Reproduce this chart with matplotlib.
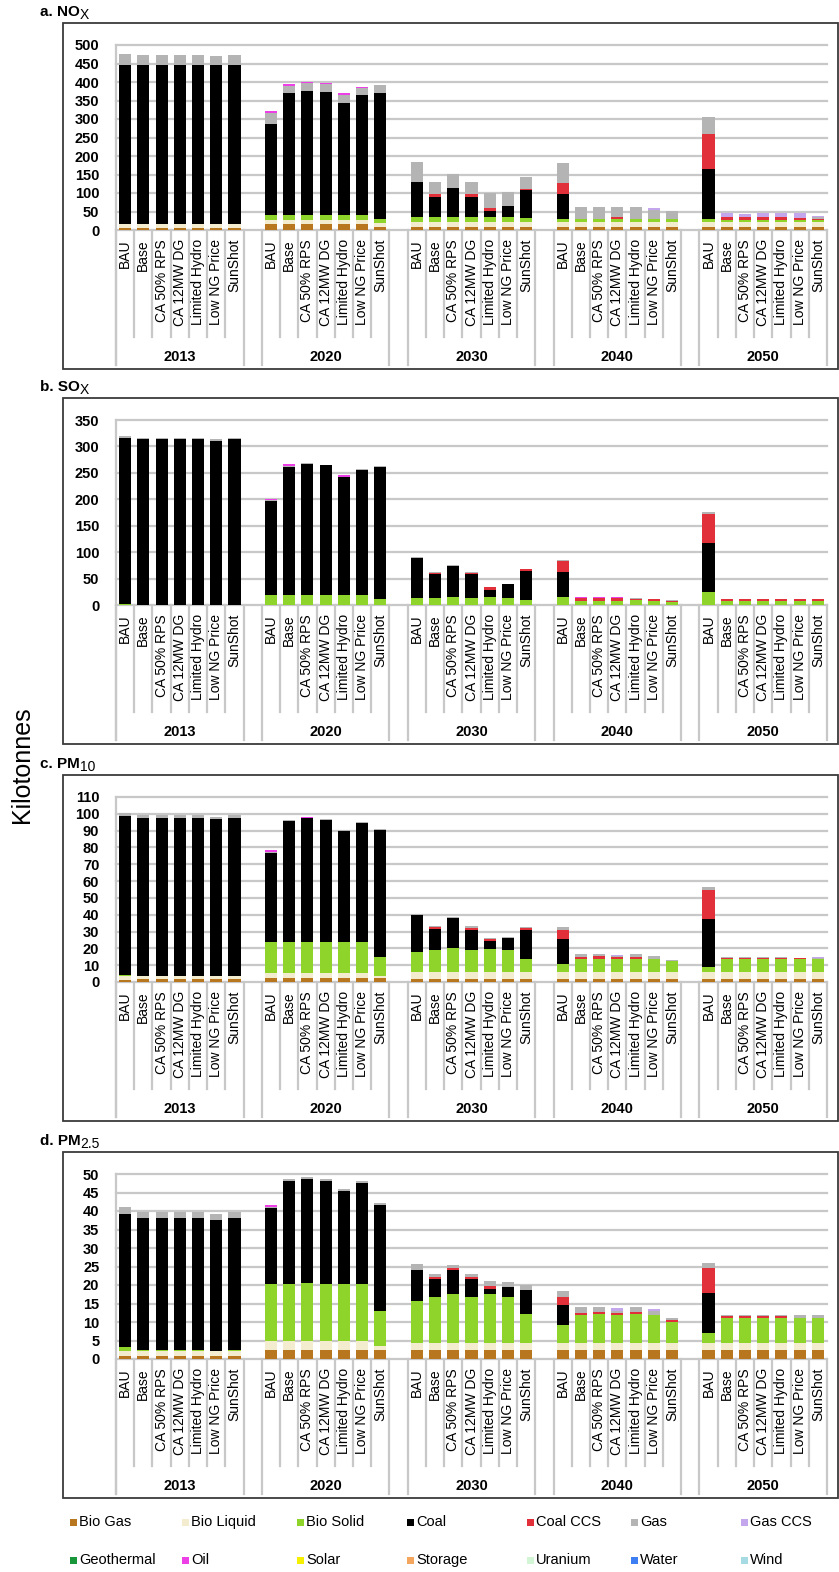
import matplotlib
matplotlib.use('Agg')
import matplotlib.pyplot as plt
import matplotlib.transforms as mtransforms
from matplotlib.patches import Rectangle
import numpy as np

plt.rcParams['font.family'] = ['Liberation Sans', 'DejaVu Sans']

W, H = 839, 1572

years = ['2013', '2020', '2030', '2040', '2050']
scenarios = ['BAU', 'Base', 'CA 50% RPS', 'CA 12MW DG', 'Limited Hydro',
             'Low NG Price', 'SunShot']
fuels = ['Bio Gas', 'Bio Liquid', 'Bio Solid', 'Coal', 'Coal CCS', 'Gas',
         'Gas CCS', 'Geothermal', 'Oil', 'Solar', 'Storage', 'Uranium',
         'Water', 'Wind']
fuel_colors = ['#b8761f', '#f3ecce', '#8fd42a', '#000000', '#e2303a', '#b4b4b4',
               '#c3a6ec', '#17963a', '#ec3fe6', '#f4f000', '#f4a55e', '#d2f5d5',
               '#3d7ff2', '#a6dbe3']

# kilotonnes, 35 bars per pollutant: 5 years x 7 scenarios
nox_bio_gas = [5, 5, 5, 5, 5, 5, 5,
               15, 15, 15, 15, 15, 15, 9,
               9, 9, 9, 9, 9, 9, 9,
               9, 9, 9, 9, 9, 9, 9,
               9, 9, 9, 9, 9, 9, 9]
nox_bio_liquid = [10, 10, 10, 10, 10, 10, 10,
                  12, 12, 12, 12, 12, 12, 11,
                  13, 13, 13, 13, 13, 13, 13,
                  13, 13, 13, 13, 13, 13, 13,
                  13, 13, 13, 13, 13, 13, 13]
nox_bio_solid = [1, 1, 1, 1, 1, 1, 1,
                 14, 14, 14, 14, 14, 14, 9,
                 13, 13, 13, 13, 13, 13, 10,
                 8, 8, 8, 8, 8, 8, 8,
                 8, 5, 5, 5, 5, 5, 5]
nox_coal = [429, 429, 429, 429, 429, 429, 429,
            245, 330, 336, 333, 301, 324, 342,
            96, 55, 79, 55, 17, 30, 76,
            66, 0, 0, 0, 0, 0, 0,
            134, 0, 0, 0, 0, 0, 0]
nox_coal_ccs = [0, 0, 0, 0, 0, 0, 0,
                0, 0, 0, 0, 0, 0, 0,
                0, 6, 0, 6, 7, 0, 4,
                30, 1, 1, 4, 1, 1, 1,
                95, 9, 8, 9, 9, 6, 4]
nox_gas = [31, 27, 27, 27, 27, 24, 27,
           29, 18, 19, 20, 23, 18, 21,
           52, 35, 38, 35, 42, 37, 30,
           54, 30, 30, 27, 30, 23, 19,
           47, 0, 0, 0, 0, 0, 3]
nox_gas_ccs = [0, 0, 0, 0, 0, 0, 0,
               0, 0, 0, 0, 0, 0, 0,
               0, 0, 0, 0, 0, 0, 0,
               0, 0, 0, 0, 0, 5, 0,
               0, 11, 8, 11, 11, 14, 4]
nox_oil = [0, 0, 0, 0, 0, 0, 0,
           7, 6, 5, 2, 4, 4, 0,
           0, 0, 0, 0, 0, 0, 0,
           0, 0, 0, 0, 0, 0, 0,
           0, 0, 0, 0, 0, 0, 0]

sox_bio_solid = [2, 0.5, 0.5, 0.5, 0.5, 0.5, 0.5,
                 19, 19, 19, 19, 19, 19, 12,
                 14, 14, 16, 14, 16, 14, 9,
                 16, 8, 8, 8, 9, 8, 6,
                 24, 8, 8, 8, 8, 8, 8]
sox_coal = [314, 314, 314, 314, 314, 310, 314,
            177, 242, 247, 245, 223, 236, 250,
            74, 44, 58, 44, 12, 25, 55,
            46, 0, 0, 0, 0, 0, 0,
            93, 0, 0, 0, 0, 0, 0]
sox_coal_ccs = [0, 0, 0, 0, 0, 0, 0,
                0, 0, 0, 0, 0, 0, 0,
                0, 3, 0, 3, 6, 0, 4,
                22, 5, 5, 5, 3, 3, 2,
                55, 3, 3, 3, 3, 3, 3]
sox_gas = [4, 2, 2, 2, 2, 3, 2,
           3, 2, 2, 1, 1, 2, 1,
           2, 1, 1, 1, 1, 1, 1,
           2, 1, 1, 1, 1, 0, 1,
           4, 0, 0, 0, 0, 0, 0]
sox_oil = [0, 0, 0, 0, 0, 0, 0,
           2, 3, 0, 0, 3, 0, 0,
           0, 0, 0, 0, 0, 0, 0,
           0, 0.5, 0.5, 0.5, 0, 1, 0,
           0, 1, 1, 1, 1, 1, 1]

pm10_bio_gas = [1.4, 1.5, 1.5, 1.5, 1.5, 1.5, 1.5,
                2.3, 2.3, 2.3, 2.3, 2.3, 2.3, 2.3,
                2, 2, 2, 2, 2, 2, 2,
                2, 2, 2, 2, 2, 2, 2,
                2, 2, 2, 2, 2, 2, 2]
pm10_bio_liquid = [2, 1.8, 1.8, 1.8, 1.8, 1.8, 1.8,
                   3, 3, 3, 3, 3, 3, 1.5,
                   3.9, 3.9, 3.9, 3.9, 3.9, 3.9, 3.9,
                   3.9, 3.9, 3.9, 3.9, 3.9, 3.9, 3.9,
                   3.9, 3.9, 3.9, 3.9, 3.9, 3.9, 3.9]
pm10_bio_solid = [1, 0.4, 0.4, 0.4, 0.4, 0, 0.4,
                  18.3, 18.3, 18.3, 18.3, 18.3, 18.3, 10.9,
                  11.7, 13.3, 14.3, 13.3, 13.9, 13.3, 8,
                  5, 8, 8, 7.8, 7.8, 7.8, 6.8,
                  3, 7.8, 7.8, 7.8, 7.8, 7.8, 7.8]
pm10_coal = [94.4, 93.7, 93.7, 93.7, 93.7, 93.5, 93.7,
             53, 72.4, 73.8, 72.8, 66.3, 70.9, 75.8,
             22, 12.5, 17.8, 11.9, 4.8, 6.9, 17.2,
             14.6, 0, 0, 0, 0, 0, 0,
             28.7, 0, 0, 0, 0, 0, 0]
pm10_coal_ccs = [0, 0, 0, 0, 0, 0, 0,
                 0, 0, 0, 0, 0, 0, 0,
                 0, 1, 0, 1, 0.9, 0, 0.8,
                 5.6, 1.1, 1.3, 1, 1.3, 0, 0,
                 17.3, 0.8, 0.8, 0.8, 0.8, 0.3, 0]
pm10_gas = [1.6, 2, 2, 2, 2, 1.2, 2,
            0.8, 0.4, 0.3, 0.4, 0.4, 0.4, 0.4,
            1, 0.6, 0.6, 0.9, 0.6, 0.8, 0.6,
            1.8, 1.6, 1.4, 0.8, 1.6, 1.5, 0.4,
            1.5, 0.2, 0.2, 0.2, 0.2, 0.2, 0.4]
pm10_gas_ccs = [0, 0, 0, 0, 0, 0, 0,
                0, 0, 0, 0, 0, 0, 0,
                0, 0, 0, 0, 0, 0, 0,
                0, 0, 0, 0.5, 0, 0.5, 0,
                0, 0, 0, 0, 0, 0, 0.8]
pm10_oil = [0, 0, 0, 0, 0, 0, 0,
            0.8, 0, 0.3, 0, 0, 0, 0,
            0, 0, 0, 0, 0, 0, 0,
            0, 0, 0, 0, 0, 0, 0,
            0, 0, 0, 0, 0, 0, 0]

pm25_bio_gas = [0.7, 0.7, 0.7, 0.7, 0.7, 0.7, 0.7,
                2.3, 2.3, 2.3, 2.3, 2.3, 2.3, 2.3,
                2.3, 2.3, 2.3, 2.3, 2.3, 2.3, 2.3,
                2.3, 2.3, 2.3, 2.3, 2.3, 2.3, 2.3,
                2.3, 2.3, 2.3, 2.3, 2.3, 2.3, 2.3]
pm25_bio_liquid = [1.5, 1.5, 1.5, 1.5, 1.5, 1.5, 1.5,
                   2.7, 2.7, 2.7, 2.7, 2.7, 2.7, 1.2,
                   2.1, 2.1, 2.1, 2.1, 2.1, 2.1, 2.1,
                   2.1, 2.1, 2.1, 2.1, 2.1, 2.1, 2.1,
                   2.1, 2.1, 2.1, 2.1, 2.1, 2.1, 2.1]
pm25_bio_solid = [1.1, 0.1, 0.1, 0.1, 0.1, 0, 0.1,
                  15.3, 15.3, 15.6, 15.3, 15.3, 15.3, 9.6,
                  11.3, 12.4, 13.3, 12.4, 13.3, 12.4, 7.8,
                  4.9, 7.5, 7.8, 7.5, 7.8, 7.5, 5.7,
                  2.7, 6.8, 6.8, 6.8, 6.8, 6.8, 6.8]
pm25_coal = [35.9, 35.9, 35.9, 35.9, 35.9, 35.5, 35.9,
             20.4, 27.8, 28, 27.8, 25.2, 27.3, 28.5,
             8.3, 4.8, 6.3, 4.8, 1.2, 2.7, 6.4,
             5.2, 0, 0, 0, 0, 0, 0,
             10.8, 0, 0, 0, 0, 0, 0]
pm25_coal_ccs = [0, 0, 0, 0, 0, 0, 0,
                 0, 0, 0, 0, 0, 0, 0,
                 0, 0.5, 0.5, 0.6, 0.8, 0, 0,
                 2.2, 0.6, 0.6, 0.6, 0.6, 0, 0.4,
                 6.6, 0.4, 0.4, 0.4, 0.4, 0, 0]
pm25_gas = [1.8, 1.4, 1.4, 1.4, 1.4, 1.4, 1.4,
            0.3, 0.5, 0.5, 0.5, 0.5, 0.4, 0.6,
            1.6, 1, 0.8, 0.9, 1.3, 1.2, 1.5,
            1.6, 1.5, 1.2, 0.6, 1.2, 1, 0.5,
            1.4, 0.4, 0.4, 0.4, 0.4, 0.8, 0.8]
pm25_gas_ccs = [0, 0, 0, 0, 0, 0, 0,
                0, 0, 0, 0, 0, 0, 0,
                0, 0, 0, 0, 0, 0, 0,
                0, 0, 0, 0.6, 0, 0.5, 0,
                0, 0, 0, 0, 0, 0, 0]
pm25_oil = [0, 0, 0, 0, 0, 0, 0,
            0.6, 0, 0, 0, 0, 0, 0,
            0, 0, 0, 0, 0, 0, 0,
            0, 0, 0, 0, 0, 0, 0,
            0, 0, 0, 0, 0, 0, 0]

panels = [
    ('a. NO', 'X', 500, 50,
     {'Bio Gas': nox_bio_gas, 'Bio Liquid': nox_bio_liquid, 'Bio Solid': nox_bio_solid,
      'Coal': nox_coal, 'Coal CCS': nox_coal_ccs, 'Gas': nox_gas,
      'Gas CCS': nox_gas_ccs, 'Oil': nox_oil}),
    ('b. SO', 'X', 350, 50,
     {'Bio Solid': sox_bio_solid, 'Coal': sox_coal, 'Coal CCS': sox_coal_ccs,
      'Gas': sox_gas, 'Oil': sox_oil}),
    ('c. PM', '10', 110, 10,
     {'Bio Gas': pm10_bio_gas, 'Bio Liquid': pm10_bio_liquid, 'Bio Solid': pm10_bio_solid,
      'Coal': pm10_coal, 'Coal CCS': pm10_coal_ccs, 'Gas': pm10_gas,
      'Gas CCS': pm10_gas_ccs, 'Oil': pm10_oil}),
    ('d. PM', '2.5', 50, 5,
     {'Bio Gas': pm25_bio_gas, 'Bio Liquid': pm25_bio_liquid, 'Bio Solid': pm25_bio_solid,
      'Coal': pm25_coal, 'Coal CCS': pm25_coal_ccs, 'Gas': pm25_gas,
      'Gas CCS': pm25_gas_ccs, 'Oil': pm25_oil}),
]

# pixel layout (from top of figure)
panel_tops = [23, 398, 775, 1152]
plot_left, plot_right = 116, 827
grid_top, zero_off, frame_h = 22, 207, 346
plot_h = zero_off - grid_top
grid_c = '#c8c8c8'

fig = plt.figure(figsize=(W / 100, H / 100), dpi=100)


def fy(py):
    return 1 - py / H


for (title, sub, ymax, step, series), T in zip(panels, panel_tops):
    # outer frame of the panel
    fig.add_artist(Rectangle((63 / W, fy(T + frame_h)), (838 - 63) / W, frame_h / H,
                             transform=fig.transFigure, fill=False, lw=1.3, ec='#3a3a3a'))
    t = fig.text(40 / W, fy(T - 11), title, fontsize=11, fontweight='bold',
                 va='center', ha='left')

    ax = fig.add_axes([plot_left / W, fy(T + zero_off), (plot_right - plot_left) / W,
                       plot_h / H])
    ax.annotate(sub, xy=(1, 0), xycoords=t, xytext=(0, -2), textcoords='offset points',
                fontsize=10, va='bottom', ha='left', annotation_clip=False)

    slots = np.array([g * 8 + s + 0.5 for g in range(len(years)) for s in range(len(scenarios))])
    bottom = np.zeros(len(slots))
    for fuel, color in zip(fuels, fuel_colors):
        vals = np.array(series.get(fuel, np.zeros(len(slots))), dtype=float)
        ax.bar(slots, vals, width=0.66, bottom=bottom, color=color, linewidth=0, zorder=3)
        bottom += vals

    ticks = np.arange(0, ymax + step, step)
    ax.set_xlim(0, 39)
    ax.set_ylim(0, ymax)
    ax.set_yticks(ticks)
    ax.set_xticks([])
    for v in ticks:
        ax.axhline(v, color=grid_c, lw=1.6, zorder=1, clip_on=False)
    for sp in ax.spines.values():
        sp.set_visible(False)
    ax.tick_params(axis='y', length=0, pad=12, labelsize=10.5)
    plt.setp(ax.get_yticklabels(), fontweight='bold')

    # two-level category axis below the bars
    tr = mtransforms.blended_transform_factory(ax.transData, ax.transAxes)

    def fa(px):
        return -px / plot_h

    ax.plot([0, 0], [1, fa(135)], color=grid_c, lw=1.6, transform=tr, clip_on=False)
    for g, yr in enumerate(years):
        x0 = g * 8
        for xe in (x0, x0 + 7):
            ax.plot([xe, xe], [0, fa(135)], color=grid_c, lw=1.6, transform=tr, clip_on=False)
        for k in range(1, 7):
            ax.plot([x0 + k, x0 + k], [0, fa(107)], color=grid_c, lw=1.6, transform=tr,
                    clip_on=False)
        for s, name in enumerate(scenarios):
            ax.text(x0 + s + 0.5, fa(9), name, rotation=90, ha='center', va='top',
                    fontsize=10, transform=tr, clip_on=False)
        ax.text(x0 + 3.5, fa(127), yr, ha='center', va='center', fontsize=10.5,
                fontweight='bold', transform=tr, clip_on=False)

fig.text(22 / W, fy(765), 'Kilotonnes', rotation=90, ha='center', va='center', fontsize=18)

# legend, two rows of seven
leg_cols = [70, 182, 297, 407, 527, 631, 741]
leg_rows = [1522, 1560]
for i, (fuel, color) in enumerate(zip(fuels, fuel_colors)):
    lx = leg_cols[i % 7]
    ly = leg_rows[i // 7]
    fig.add_artist(Rectangle((lx / W, fy(ly + 4)), 7 / W, 7 / H, transform=fig.transFigure,
                             fc=color, ec='none'))
    fig.text((lx + 9) / W, fy(ly), fuel, fontsize=10.5, va='center', ha='left')

fig.savefig('out.png', dpi=100)
